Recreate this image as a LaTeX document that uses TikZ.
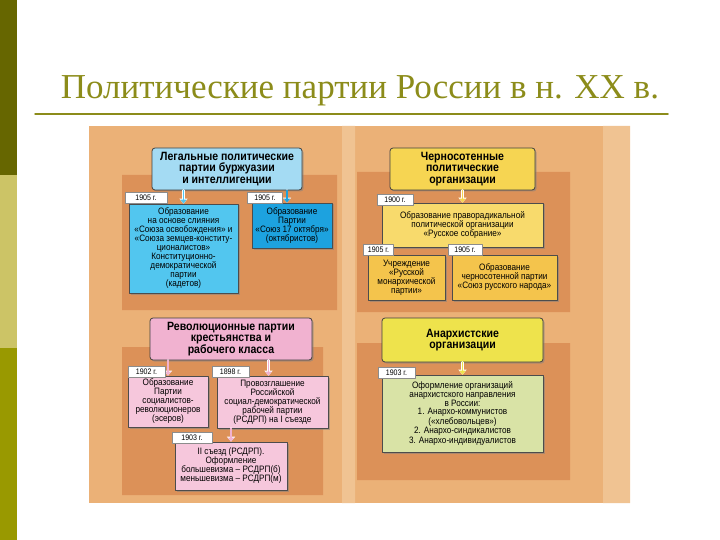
\documentclass[tikz,border=0pt]{standalone}
\usepackage{fontspec}
\setmainfont{Liberation Serif}
\newfontfamily\boxfont[FakeStretch=0.88]{Liberation Sans}
\usetikzlibrary{arrows.meta,shadows}
\definecolor{bardark}{HTML}{666600}
\definecolor{barlight}{HTML}{CCC466}
\definecolor{barmid}{HTML}{999900}
\definecolor{titlecol}{HTML}{8C8C1A}
\definecolor{tanbase}{HTML}{EBB177}
\definecolor{tanpatch}{HTML}{DC9158}
\definecolor{tanlight}{HTML}{F0C392}
\definecolor{bluehead}{HTML}{A4DBF3}
\definecolor{bluebox}{HTML}{52C6EF}
\definecolor{bluedeep}{HTML}{1DA2DF}
\definecolor{yelhead}{HTML}{F6D552}
\definecolor{yelbox}{HTML}{F8DA6C}
\definecolor{yellow2}{HTML}{F4C44C}
\definecolor{pinkhead}{HTML}{F1B2D0}
\definecolor{pinkbox}{HTML}{F6C7DC}
\definecolor{limehead}{HTML}{EEE34C}
\definecolor{greenbox}{HTML}{D9E3A6}
\begin{document}
\begin{tikzpicture}[x=1pt,y=-1pt,line join=round,line cap=round,
  hdr/.style={draw=black!75,line width=0.8pt,rounded corners=3pt,fill=#1,align=center,
    inner sep=0pt,font=\boxfont\bfseries\fontsize{12}{11.2}\selectfont,
    drop shadow={shadow xshift=1.5pt,shadow yshift=-1.5pt,opacity=0.5}},
  bx/.style={draw=black!70,line width=0.6pt,fill=#1,align=center,inner sep=0pt,
    font=\boxfont\fontsize{9.3}{9}\selectfont,
    drop shadow={shadow xshift=1.5pt,shadow yshift=-1.5pt,opacity=0.5}},
  yr/.style={draw=black!45,line width=0.4pt,fill=white,inner sep=0pt,
    font=\boxfont\fontsize{8}{8}\selectfont},
  arrw/.style={-{Triangle[length=4pt,width=6pt]},line width=1.5pt,draw=#1,
    preaction={draw=white,line width=2.7pt,-{Triangle[length=5pt,width=8pt]}}}]
\useasboundingbox (0,0) rectangle (720,540);
\fill[bardark] (0,0) rectangle (17,175);
\fill[barlight] (0,175) rectangle (17,348);
\fill[barmid] (0,348) rectangle (17,540);
\node[text=titlecol,font=\fontsize{35}{38}\selectfont] (title) at (360,91) {Политические партии России в н. XX в.};
\draw[titlecol,line width=1.5pt] (35,114) -- (668,114);
\fill[tanbase] (89,126) rectangle (630,503);
\fill[tanlight] (603,126) rectangle (630,503) (342,126) rectangle (355,503);
\fill[tanpatch] (122,175) rectangle (337,310) (357,172) rectangle (570,312)
  (122,347) rectangle (323,495) (357,343) rectangle (570,480);
\node[hdr=bluehead,minimum width=150pt,minimum height=42pt] (legal) at (227,169)
  {Легальные политические\\партии буржуазии\\и интеллигенции};
\node[bx=bluebox,minimum width=109pt,minimum height=89pt] (kadet) at (183.5,248.5)
  {Образование\\на основе слияния\\«Союза освобождения» и\\«Союза земцев-конститу-\\ционалистов»\\Конституционно-\\демократической\\партии\\(кадетов)};
\node[bx=bluedeep,minimum width=80pt,minimum height=45pt] (octob) at (292,225.5)
  {Образование\\Партии\\«Союз 17 октября»\\(октябристов)};
\node[hdr=yelhead,minimum width=145pt,minimum height=42pt] (black) at (462.5,169)
  {Черносотенные\\политические\\организации};
\node[bx=yelbox,minimum width=161pt,minimum height=44pt] (sobr) at (462.5,225)
  {Образование праворадикальной\\политической организации\\«Русское собрание»};
\node[bx=yellow2,minimum width=77pt,minimum height=45pt] (monar) at (406.5,277.5)
  {Учреждение\\«Русской\\монархической\\партии»};
\node[bx=yellow2,minimum width=105pt,minimum height=45pt] (srn) at (504.5,277.5)
  {Образование\\черносотенной партии\\«Союз русского народа»};
\node[hdr=pinkhead,minimum width=162pt,minimum height=42pt] (revol) at (231,339)
  {Революционные партии\\крестьянства и\\рабочего класса};
\node[bx=pinkbox,minimum width=80pt,minimum height=51pt] (esery) at (168,401.5)
  {Образование\\Партии\\социалистов-\\революционеров\\(эсеров)};
\node[bx=pinkbox,minimum width=111pt,minimum height=52pt] (rsdrp) at (272.5,402)
  {Провозглашение\\Российской\\социал-демократической\\рабочей партии\\(РСДРП) на I съезде};
\node[bx=pinkbox,minimum width=112pt,minimum height=48pt] (congr) at (231,466)
  {II съезд (РСДРП).\\Оформление\\большевизма – РСДРП(б)\\меньшевизма – РСДРП(м)};
\node[hdr=limehead,minimum width=161pt,minimum height=44pt] (anarh) at (462.5,340)
  {Анархистские\\организации};
\node[bx=greenbox,minimum width=161pt,minimum height=77pt,font=\boxfont\fontsize{9.3}{8.3}\selectfont] (anorg) at (462.5,413.5)
  {Оформление организаций\\анархистского направления\\в России:\\1. Анархо-коммунистов\\(«хлебовольцев»)\\2. Анархо-синдикалистов\\3. Анархо-индивидуалистов};
\draw[arrw=bluebox] (kadet.north |- legal.south) -- (kadet.north);
\draw[arrw=bluedeep] ([xshift=-5pt]octob.north |- legal.south) -- ([xshift=-5pt]octob.north);
\draw[arrw=yelhead] (sobr.north |- black.south) -- (sobr.north);
\draw[arrw=pinkhead] (esery.north |- revol.south) -- (esery.north);
\draw[arrw=pinkhead] ([xshift=-4pt]rsdrp.north |- revol.south) -- ([xshift=-4pt]rsdrp.north);
\draw[arrw=pinkhead] (congr.north |- rsdrp.south) -- (congr.north);
\draw[arrw=limehead] (anorg.north |- anarh.south) -- (anorg.north);
\foreach \nm/\px/\py/\bw/\yy in {y1/146/198/42/1905, y2/265/198/35/1905, y3/395/199.5/36/1900,
    y4/378.5/250/30/1905, y5/465/250/34/1905, y6/146.5/372/37/1902, y7/230.5/372/37/1898,
    y8/192/438/40/1903, y9/396.5/372.5/37/1903}
  \node[yr,minimum width=\bw pt,minimum height=11pt] (\nm) at (\px,\py) {\yy\ г.};
\end{tikzpicture}
\end{document}
